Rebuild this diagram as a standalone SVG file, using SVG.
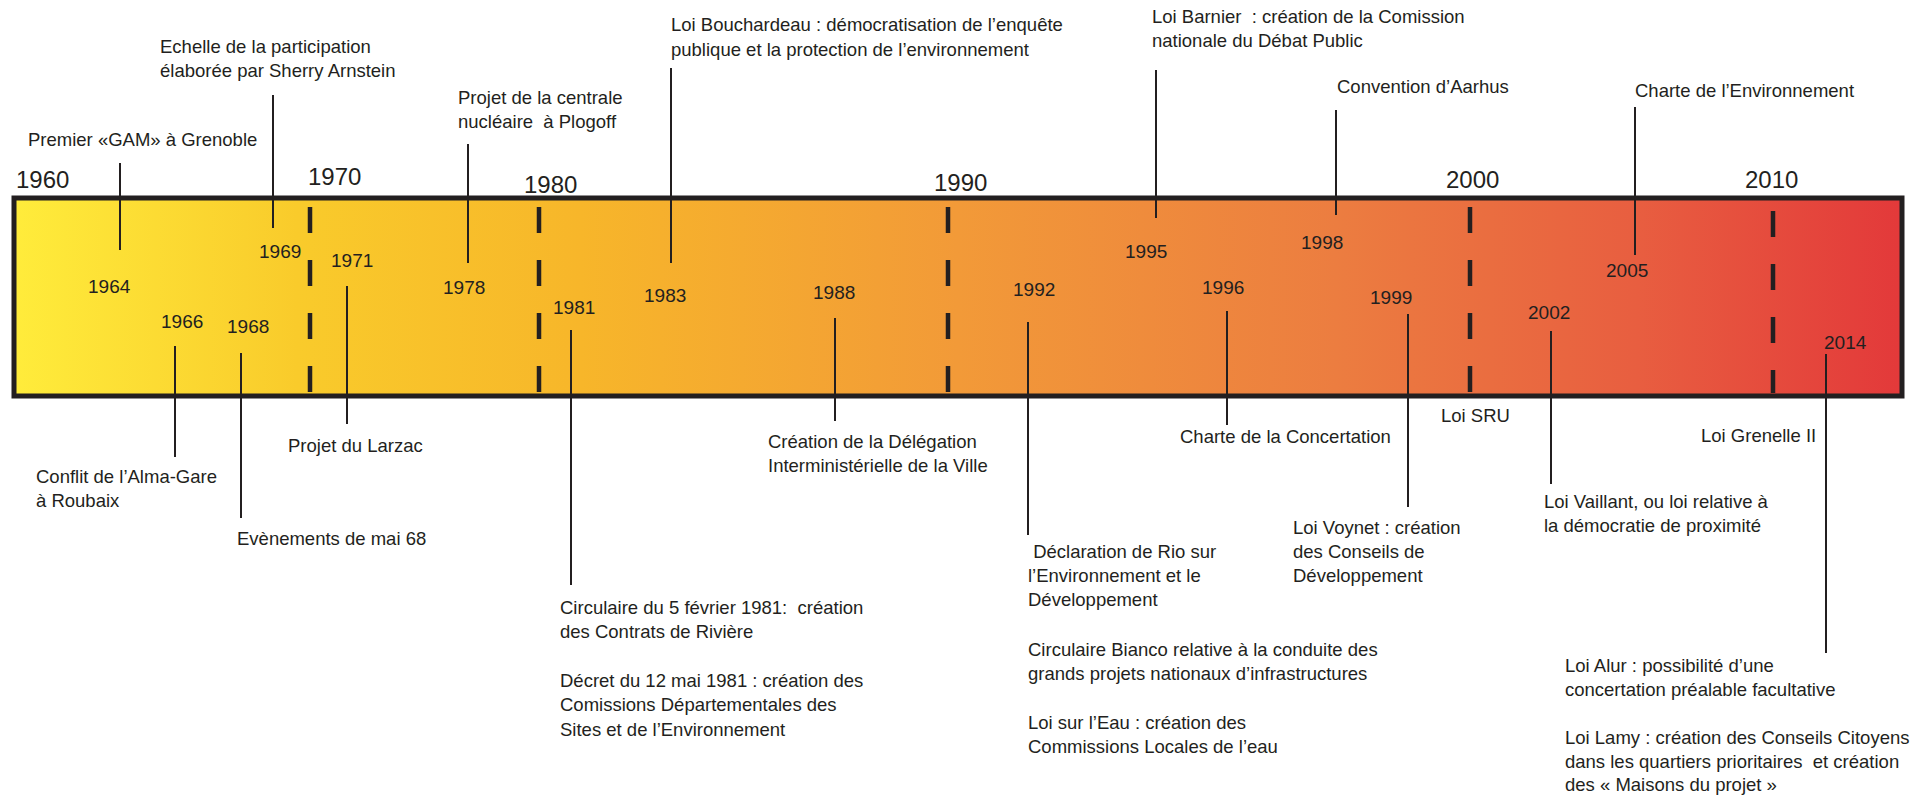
<svg xmlns="http://www.w3.org/2000/svg" width="1917" height="797" viewBox="0 0 1917 797">
  <defs>
    <linearGradient id="barGrad" x1="0" y1="0" x2="1" y2="0">
      <stop offset="0" stop-color="#FFEC3B"/>
      <stop offset="0.15" stop-color="#F9CB2B"/>
      <stop offset="0.3" stop-color="#F7B62A"/>
      <stop offset="0.5" stop-color="#F29A38"/>
      <stop offset="0.7" stop-color="#EC7D40"/>
      <stop offset="0.86" stop-color="#E85E40"/>
      <stop offset="1" stop-color="#E3393A"/>
    </linearGradient>
    <style>
      text { font-family: "Liberation Sans", Arial, sans-serif; fill: #231F20; white-space: pre; }
      .lbl { font-size: 18.5px; }
      .yr { font-size: 19px; }
      .dec { font-size: 24px; }
      .conn line { stroke: #231F20; stroke-width: 2; }
      .dash { stroke: #231F20; stroke-width: 4.5; stroke-dasharray: 26 27; fill: none; }
    </style>
  </defs>
  <rect width="1917" height="797" fill="#FFFFFF"/>

  <g id="timeline-bar">
    <rect x="14" y="198" width="1888" height="198" fill="url(#barGrad)" stroke="#231F20" stroke-width="5"/>
  </g>

  <g id="decades">
    <g id="dec-1960"><text class="dec" x="16" y="188">1960</text></g>
    <g id="dec-1970"><text class="dec" x="308" y="185">1970</text><line class="dash" x1="310" y1="207" x2="310" y2="393"/></g>
    <g id="dec-1980"><text class="dec" x="524" y="193">1980</text><line class="dash" x1="539" y1="207" x2="539" y2="393"/></g>
    <g id="dec-1990"><text class="dec" x="934" y="191">1990</text><line class="dash" x1="948" y1="207" x2="948" y2="393"/></g>
    <g id="dec-2000"><text class="dec" x="1446" y="188">2000</text><line class="dash" x1="1470" y1="207" x2="1470" y2="393"/></g>
    <g id="dec-2010"><text class="dec" x="1745" y="188">2010</text><line class="dash" x1="1773" y1="211" x2="1773" y2="393"/></g>
  </g>

  <g id="connectors" class="conn">
    <line x1="120" y1="163" x2="120" y2="250"/>
    <line x1="273" y1="95" x2="273" y2="228"/>
    <line x1="468" y1="144" x2="468" y2="263"/>
    <line x1="671" y1="68" x2="671" y2="263"/>
    <line x1="1156" y1="70" x2="1156" y2="218"/>
    <line x1="1336" y1="110" x2="1336" y2="215"/>
    <line x1="1635" y1="107" x2="1635" y2="255"/>
    <line x1="175" y1="346" x2="175" y2="457"/>
    <line x1="241" y1="353" x2="241" y2="518"/>
    <line x1="347" y1="286" x2="347" y2="424"/>
    <line x1="571" y1="330" x2="571" y2="585"/>
    <line x1="835" y1="318" x2="835" y2="421"/>
    <line x1="1028" y1="322" x2="1028" y2="535"/>
    <line x1="1227" y1="311" x2="1227" y2="425"/>
    <line x1="1408" y1="314" x2="1408" y2="507"/>
    <line x1="1551" y1="331" x2="1551" y2="484"/>
    <line x1="1826" y1="354" x2="1826" y2="653"/>
  </g>

  <g id="ev-1964"><text class="yr" x="88" y="293">1964</text><text class="lbl" x="28" y="146">Premier «GAM» à Grenoble</text></g>
  <g id="ev-1966"><text class="yr" x="161" y="328">1966</text><text class="lbl" x="36" y="483">Conflit de l’Alma-Gare</text><text class="lbl" x="36" y="507">à Roubaix</text></g>
  <g id="ev-1968"><text class="yr" x="227" y="333">1968</text><text class="lbl" x="237" y="545">Evènements de mai 68</text></g>
  <g id="ev-1969"><text class="yr" x="259" y="258">1969</text><text class="lbl" x="160" y="53">Echelle de la participation</text><text class="lbl" x="160" y="77">élaborée par Sherry Arnstein</text></g>
  <g id="ev-1971"><text class="yr" x="331" y="267">1971</text><text class="lbl" x="288" y="452">Projet du Larzac</text></g>
  <g id="ev-1978"><text class="yr" x="443" y="294">1978</text><text class="lbl" x="458" y="104">Projet de la centrale</text><text class="lbl" x="458" y="128">nucléaire  à Plogoff</text></g>
  <g id="ev-1981"><text class="yr" x="553" y="314">1981</text>
    <text class="lbl" x="560" y="614">Circulaire du 5 février 1981:  création</text>
    <text class="lbl" x="560" y="638">des Contrats de Rivière</text>
    <text class="lbl" x="560" y="687">Décret du 12 mai 1981 : création des</text>
    <text class="lbl" x="560" y="711">Comissions Départementales des</text>
    <text class="lbl" x="560" y="736">Sites et de l’Environnement</text>
  </g>
  <g id="ev-1983"><text class="yr" x="644" y="302">1983</text><text class="lbl" x="671" y="31">Loi Bouchardeau : démocratisation de l’enquête</text><text class="lbl" x="671" y="56">publique et la protection de l’environnement</text></g>
  <g id="ev-1988"><text class="yr" x="813" y="299">1988</text><text class="lbl" x="768" y="448">Création de la Délégation</text><text class="lbl" x="768" y="472">Interministérielle de la Ville</text></g>
  <g id="ev-1992"><text class="yr" x="1013" y="296">1992</text>
    <text class="lbl" x="1028" y="558"> Déclaration de Rio sur</text>
    <text class="lbl" x="1028" y="582">l’Environnement et le</text>
    <text class="lbl" x="1028" y="606">Développement</text>
    <text class="lbl" x="1028" y="656">Circulaire Bianco relative à la conduite des</text>
    <text class="lbl" x="1028" y="680">grands projets nationaux d’infrastructures</text>
    <text class="lbl" x="1028" y="729">Loi sur l’Eau : création des</text>
    <text class="lbl" x="1028" y="753">Commissions Locales de l’eau</text>
  </g>
  <g id="ev-1995"><text class="yr" x="1125" y="258">1995</text><text class="lbl" x="1152" y="23">Loi Barnier  : création de la Comission</text><text class="lbl" x="1152" y="47">nationale du Débat Public</text></g>
  <g id="ev-1996"><text class="yr" x="1202" y="294">1996</text><text class="lbl" x="1180" y="443">Charte de la Concertation</text></g>
  <g id="ev-1998"><text class="yr" x="1301" y="249">1998</text><text class="lbl" x="1337" y="93">Convention d’Aarhus</text></g>
  <g id="ev-1999"><text class="yr" x="1370" y="304">1999</text>
    <text class="lbl" x="1293" y="534">Loi Voynet : création</text>
    <text class="lbl" x="1293" y="558">des Conseils de</text>
    <text class="lbl" x="1293" y="582">Développement</text>
  </g>
  <g id="ev-2000"><text class="lbl" x="1441" y="422">Loi SRU</text></g>
  <g id="ev-2002"><text class="yr" x="1528" y="319">2002</text><text class="lbl" x="1544" y="508">Loi Vaillant, ou loi relative à</text><text class="lbl" x="1544" y="532">la démocratie de proximité</text></g>
  <g id="ev-2005"><text class="yr" x="1606" y="277">2005</text><text class="lbl" x="1635" y="97">Charte de l’Environnement</text></g>
  <g id="ev-2010"><text class="lbl" x="1701" y="442">Loi Grenelle II</text></g>
  <g id="ev-2014"><text class="yr" x="1824" y="349">2014</text>
    <text class="lbl" x="1565" y="672">Loi Alur : possibilité d’une</text>
    <text class="lbl" x="1565" y="696">concertation préalable facultative</text>
    <text class="lbl" x="1565" y="744">Loi Lamy : création des Conseils Citoyens</text>
    <text class="lbl" x="1565" y="768">dans les quartiers prioritaires  et création</text>
    <text class="lbl" x="1565" y="791">des « Maisons du projet »</text>
  </g>
</svg>
